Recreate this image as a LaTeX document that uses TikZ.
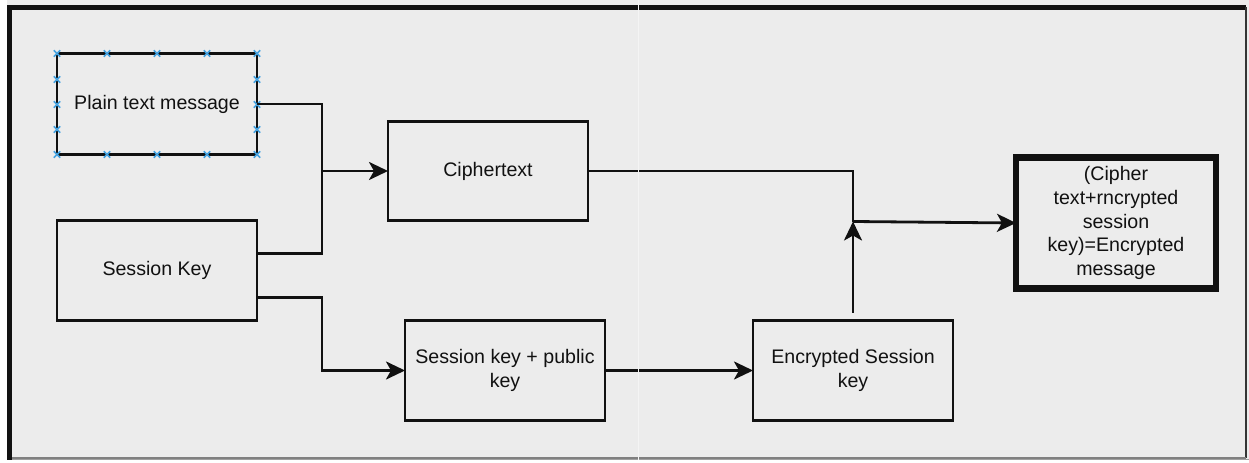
\documentclass[tikz,border=0pt]{standalone}
\usepackage{fontspec}
\setmainfont{Liberation Sans}
\usetikzlibrary{arrows.meta}
\definecolor{paper}{HTML}{ECECEC}
\definecolor{ink}{HTML}{111111}
\definecolor{handle}{HTML}{44A2E0}
\tikzset{
  blk/.style={draw=ink, line width=2.9pt, rectangle, inner sep=2pt, outer sep=0pt,
    minimum width=200pt, minimum height=100pt, align=center, text=ink,
    font=\fontsize{19.6}{23.8}\selectfont},
  wire/.style={draw=ink, line width=2.8pt},
  arr/.style={wire, -{Stealth[length=19pt, width=18pt, inset=5pt]}},
  handlemark/.style={draw=handle, line width=1.7pt}
}
\begin{document}
\begin{tikzpicture}[x=1pt, y=-1pt]
  % canvas and outer frame
  \fill[white] (0,0) rectangle (1249,459);
  \fill[paper] (7,0) rectangle (1249,459);
  \fill[gray!75] (7,458.2) rectangle (1249,459);
  \draw[ink, line width=5.5pt] (9.5,459) -- (9.5,7) -- (1246,7);
  \draw[ink!85, line width=1.6pt] (1246,7) -- (1246,457.5);
  \draw[gray, line width=1.4pt] (12,457.5) -- (1246,457.5);

  % blocks
  \node[blk, minimum height=101pt] (plain) at (157,103.5) {Plain text message};
  \node[blk] (sess) at (157,270) {Session Key};
  \node[blk, minimum height=99pt] (ciph) at (488,170.5) {Ciphertext};
  \node[blk] (skpk) at (505,370) {Session key + public\\key};
  \node[blk] (esk) at (853,370) {Encrypted Session\\key};
  \node[blk, line width=6.2pt, minimum height=131pt] (final) at (1116,222.5)
    {(Cipher\\text+rncrypted\\session\\key)=Encrypted\\message};

  % selection handles on the first block
  \foreach \px in {57,107,157,207,257}{
    \foreach \py in {53,154}{
      \draw[handlemark] (\px-3.2,\py-3.2) -- (\px+3.2,\py+3.2) (\px-3.2,\py+3.2) -- (\px+3.2,\py-3.2);
    }
  }
  \foreach \py in {79,104,129}{
    \foreach \px in {57,257}{
      \draw[handlemark] (\px-3.2,\py-3.2) -- (\px+3.2,\py+3.2) (\px-3.2,\py+3.2) -- (\px+3.2,\py-3.2);
    }
  }

  % junction points
  \coordinate (j1) at (322,170.5);
  \coordinate (j2) at (322,370);
  \coordinate (j3) at (853,221);

  % connectors
  \draw[arr] (plain.east) -| (j1) -- (ciph.west);
  \draw[wire] ([yshift=17pt]sess.east) -| (j1);
  \draw[arr] ([yshift=-27pt]sess.east) -| (j2) -- (skpk.west);
  \draw[arr] (skpk.east) -- (esk.west);
  \draw[wire] (ciph.east) -| (j3);
  \draw[arr] ([yshift=8pt]esk.north) -- (j3);
  \draw[arr] (j3) -- (final.west);

  % thin seam
  \draw[white!40!paper, line width=1pt] (638.5,0) -- (638.5,459);
\end{tikzpicture}
\end{document}
